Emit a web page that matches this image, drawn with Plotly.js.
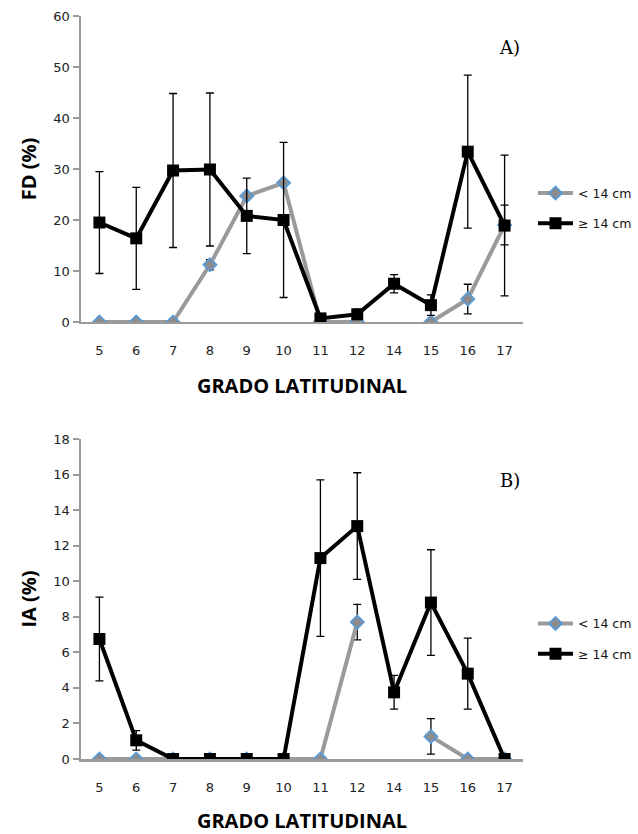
<!DOCTYPE html>
<html>
<head>
<meta charset="utf-8">
<script src="https://cdn.plot.ly/plotly-3.0.1.min.js"></script>
<style>html,body{margin:0;padding:0;background:#fff;}#chart{width:638px;height:834px;}</style>
</head>
<body>
<div id="chart"></div>
<script>
// Categories (grado latitudinal)
const grados = ['5','6','7','8','9','10','11','12','14','15','16','17'];

// Panel A: FD (%)
const fdSmall = [0, 0, 0, 11.2, 24.7, 27.3, 0, 0, null, 0, 4.5, 19.0];
const fdSmallErr = [null, null, null, 1.0, null, null, null, null, null, null, 2.9, 3.9];
const fdLarge = [19.5, 16.4, 29.7, 29.9, 20.8, 20.0, 0.7, 1.5, 7.5, 3.3, 33.4, 18.9];
const fdLargeErr = [10.0, 10.0, 15.1, 15.0, 7.4, 15.2, null, 1.0, 1.8, 2.0, 15.0, 13.8];

// Panel B: IA (%)
const iaSmall = [0, 0, 0, 0, 0, 0, 0, 7.7, null, 1.27, 0, 0];
const iaSmallErr = [null, null, null, null, null, null, null, 1.0, null, 1.0, null, null];
const iaLarge = [6.75, 1.05, 0, 0, 0, 0, 11.3, 13.1, 3.75, 8.8, 4.8, 0];
const iaLargeErr = [2.36, 0.55, null, null, null, null, 4.4, 3.0, 0.95, 2.97, 2.0, null];

const seriesNames = ['< 14 cm', '\u2265 14 cm'];
const yTicksA = [0, 10, 20, 30, 40, 50, 60];
const yTicksB = [0, 2, 4, 6, 8, 10, 12, 14, 16, 18];

const grayLine = '#9a9a9a';
const errStyle = (arr) => ({type: 'data', array: arr, visible: true, color: '#000', thickness: 1.3, width: 4});

function smallTrace(y, err, xa, ya, lg) {
  return {
    x: grados, y: y, xaxis: xa, yaxis: ya, name: seriesNames[0], legend: lg, legendgroup: lg + 's',
    mode: 'lines+markers', type: 'scatter', connectgaps: false,
    line: {color: grayLine, width: 4},
    marker: {symbol: 'diamond', size: 10, color: '#8c8c8c', line: {color: '#5b9bd5', width: 1.8}},
    error_y: errStyle(err)
  };
}
function largeTrace(y, err, xa, ya, lg) {
  return {
    x: grados, y: y, xaxis: xa, yaxis: ya, name: seriesNames[1], legend: lg, legendgroup: lg + 'l',
    mode: 'lines+markers', type: 'scatter',
    line: {color: '#000', width: 4},
    marker: {symbol: 'square', size: 12, color: '#000'},
    error_y: errStyle(err)
  };
}

const traces = [
  smallTrace(fdSmall, fdSmallErr, 'x', 'y', 'legend'),
  largeTrace(fdLarge, fdLargeErr, 'x', 'y', 'legend'),
  smallTrace(iaSmall, iaSmallErr, 'x2', 'y2', 'legend2'),
  largeTrace(iaLarge, iaLargeErr, 'x2', 'y2', 'legend2')
];

const tickFont = {family: 'DejaVu Sans', size: 13, color: '#222'};
const titleFont = {family: 'Open Sans', size: 20, color: '#000', weight: 'bold'};

function xAxis(anchor) {
  return {
    type: 'category', range: [-0.5, 11.5], anchor: anchor,
    showline: true, linecolor: '#9a9a9a', linewidth: 2.5,
    ticks: '', showgrid: false, zeroline: false,
    tickfont: tickFont, ticklabelstandoff: 15,
    title: {text: 'GRADO LATITUDINAL', font: titleFont, standoff: 22}
  };
}
function yAxis(anchor, domain, range, ticks, title) {
  return {
    anchor: anchor, domain: domain, range: range, tickvals: ticks,
    showline: true, linecolor: '#9a9a9a', linewidth: 2.5,
    ticks: 'outside', ticklen: 6, tickwidth: 2, tickcolor: '#9a9a9a',
    showgrid: false, zeroline: false, tickfont: tickFont,
    title: {text: title, font: titleFont, standoff: 12}
  };
}

const legendBase = {
  x: 1.0226, xanchor: 'left', yanchor: 'middle',
  font: {family: 'DejaVu Sans', size: 12.5, color: '#111'},
  bgcolor: 'rgba(0,0,0,0)', traceorder: 'grouped', tracegroupgap: 11,
  itemwidth: 35
};

const layout = {
  width: 638, height: 834,
  margin: {l: 81, r: 115, t: 16, b: 75, autoexpand: false},
  paper_bgcolor: '#fff', plot_bgcolor: '#fff',
  showlegend: true,
  xaxis: xAxis('y'),
  yaxis: yAxis('x', [0.5882, 1], [0, 60], yTicksA, 'FD (%)'),
  xaxis2: xAxis('y2'),
  yaxis2: yAxis('x2', [0, 0.4307], [0, 18], yTicksB, 'IA (%)'),
  legend: Object.assign({}, legendBase, {y: 0.741}),
  legend2: Object.assign({}, legendBase, {y: 0.1617}),
  annotations: [
    {text: 'A)', xref: 'paper', yref: 'paper', x: 0.97, y: 0.9575, xanchor: 'center', yanchor: 'middle', showarrow: false,
     font: {family: 'DejaVu Serif', size: 18, color: '#000'}},
    {text: 'B)', xref: 'paper', yref: 'paper', x: 0.97, y: 0.3755, xanchor: 'center', yanchor: 'middle', showarrow: false,
     font: {family: 'DejaVu Serif', size: 18, color: '#000'}}
  ]
};

Plotly.newPlot('chart', traces, layout, {displayModeBar: false, staticPlot: true});
</script>
</body>
</html>
